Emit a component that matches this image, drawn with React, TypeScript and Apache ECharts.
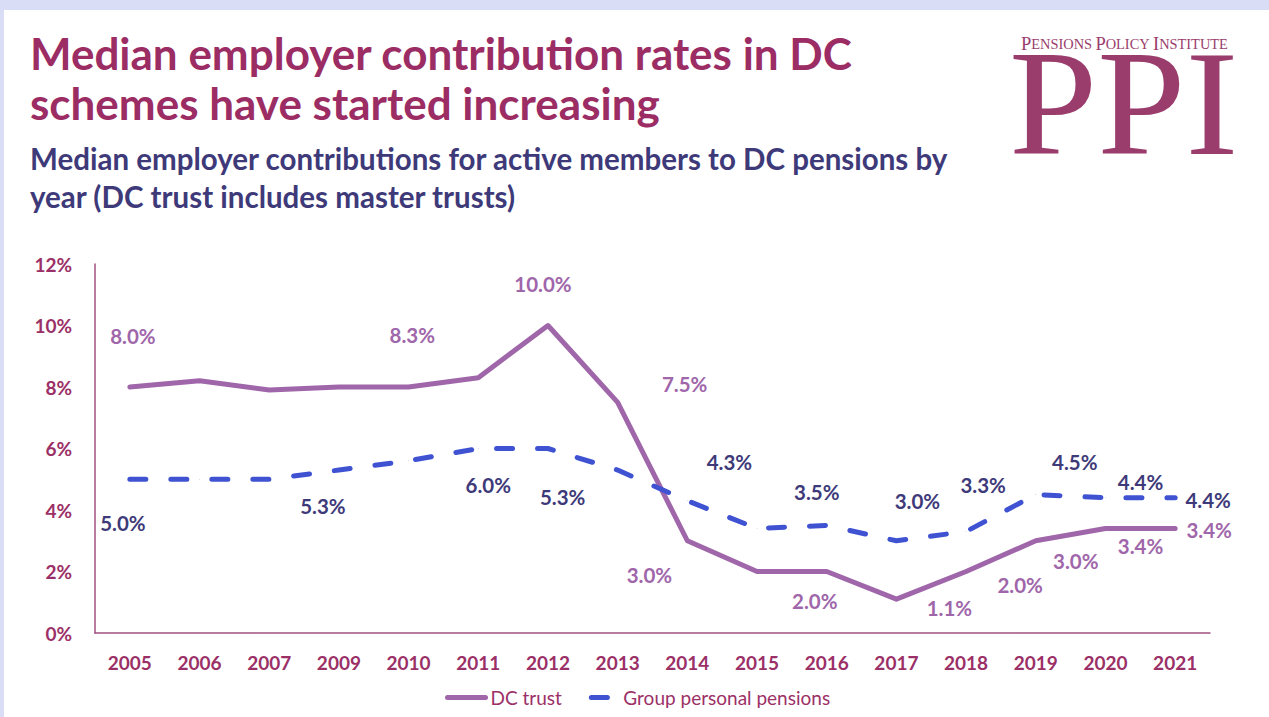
import React, { useEffect, useRef } from "react";
import * as echarts from "echarts";

const YEARS = ["2005", "2006", "2007", "2009", "2010", "2011", "2012", "2013", "2014", "2015", "2016", "2017", "2018", "2019", "2020", "2021"];
const DC_TRUST = [8.0, 8.2, 7.9, 8.0, 8.0, 8.3, 10.0, 7.5, 3.0, 2.0, 2.0, 1.1, 2.0, 3.0, 3.4, 3.4];
const GROUP_PERSONAL = [5.0, 5.0, 5.0, 5.3, 5.6, 6.0, 6.0, 5.3, 4.3, 3.4, 3.5, 3.0, 3.3, 4.5, 4.4, 4.4];
const Y_TICKS = [0, 2, 4, 6, 8, 10, 12];
const SERIES_NAMES = ["DC trust", "Group personal pensions"];

// label placements (offset from point, px), keyed by category index
const DC_LABEL_OFFSETS: Record<number, [number, number]> = {
  0: [3, -51], 5: [-66, -43], 6: [-5, -42], 7: [67, -18], 8: [-38, 34], 10: [-12, 29],
  11: [53, 9], 12: [54, 13], 13: [40, 20], 14: [35, 18], 15: [34, 2],
};
const GPP_LABEL_OFFSETS: Record<number, [number, number]> = {
  0: [-7, 44], 3: [-16, 36], 5: [10, 36], 7: [-55, 27], 8: [42, -39], 10: [-10, -33],
  11: [21, -40], 12: [17, -47], 13: [39, -33], 14: [35, -16], 15: [33, 2],
};

const PLUM = "#9b3067";
const DC_COLOR = "#a066aa";
const GPP_COLOR = "#3f52d2";
const NAVY = "#3e3a7a";
const LOGO = "#9a3c6c";
const FONT = "Lato, 'Open Sans', sans-serif";
const SERIF = "'Liberation Serif', serif";

function buildData(values: number[], offsets: Record<number, [number, number]>, color: string) {
  return values.map((v, i) =>
    offsets[i]
      ? {
          value: v,
          label: {
            show: true,
            position: "inside",
            offset: offsets[i],
            color,
            fontFamily: FONT,
            fontWeight: "bold",
            fontSize: 20.5,
            formatter: (p: any) => Number(p.value).toFixed(1) + "%",
          },
        }
      : { value: v }
  );
}

export default function App() {
  const ref = useRef<HTMLDivElement>(null);
  useEffect(() => {
    if (!ref.current) return;
    const chart = echarts.init(ref.current, null, { renderer: "svg" });
    chart.setOption({
      animation: false,
      backgroundColor: "#d9ddf5",
      graphic: [
        { type: "rect", z: -10, shape: { x: 4, y: 10, width: 1265, height: 707 }, style: { fill: "#ffffff" } },
        {
          type: "text",
          x: 1021,
          y: 53,
          style: {
            text: "{a|P}{b|ENSIONS} {a|P}{b|OLICY} {a|I}{b|NSTITUTE}",
            textVerticalAlign: "bottom",
            rich: {
              a: { fontFamily: SERIF, fontSize: 18.5, fill: LOGO },
              b: { fontFamily: SERIF, fontSize: 14.4, fill: LOGO },
            },
          },
        },
        {
          type: "text",
          x: 1009,
          y: 28,
          scaleX: 1.08,
          scaleY: 1.02,
          style: {
            text: "PPI",
            fontFamily: SERIF,
            fontSize: 147,
            fill: LOGO,
          },
        },
      ],
      title: [
        {
          text: "Median employer contribution rates in DC\nschemes have started increasing",
          left: 25,
          top: 23,
          textStyle: { color: "#9b2d64", fontFamily: FONT, fontWeight: "bold", fontSize: 44, lineHeight: 50 },
        },
        {
          text: "Median employer contributions for active members to DC pensions by\nyear (DC trust includes master trusts)",
          left: 25,
          top: 134,
          textStyle: { color: NAVY, fontFamily: FONT, fontWeight: "bold", fontSize: 29.5, lineHeight: 38 },
        },
      ],
      legend: {
        data: [
          { name: SERIES_NAMES[0] },
          { name: SERIES_NAMES[1], lineStyle: { type: [16, 30], dashOffset: 35 } },
        ],
        left: 440,
        top: 683,
        itemWidth: 38,
        itemHeight: 14,
        itemGap: 16,
        itemStyle: { opacity: 0 },
        lineStyle: { width: 5, cap: "round" },
        textStyle: { color: PLUM, fontFamily: FONT, fontSize: 19 },
      },
      grid: { left: 95, top: 264, width: 1115, height: 369, containLabel: false },
      xAxis: {
        type: "category",
        data: YEARS,
        boundaryGap: true,
        axisLine: { show: true, lineStyle: { color: "#a0507f", width: 1.5 } },
        axisTick: { show: false },
        axisLabel: { color: PLUM, fontFamily: FONT, fontWeight: "bold", fontSize: 19, margin: 20 },
      },
      yAxis: {
        type: "value",
        min: Y_TICKS[0],
        max: Y_TICKS[Y_TICKS.length - 1],
        interval: 2,
        axisLine: { show: true, lineStyle: { color: "#a0507f", width: 1.5 } },
        axisTick: { show: false },
        splitLine: { show: false },
        axisLabel: { color: PLUM, fontFamily: FONT, fontWeight: "bold", fontSize: 19, margin: 23, formatter: "{value}%" },
      },
      series: [
        {
          name: SERIES_NAMES[0],
          type: "line",
          color: DC_COLOR,
          data: buildData(DC_TRUST, DC_LABEL_OFFSETS, DC_COLOR),
          symbol: "circle",
          symbolSize: 0.5,
          lineStyle: { color: DC_COLOR, width: 5, cap: "round", join: "round" },
          label: { show: false },
          z: 2,
        },
        {
          name: SERIES_NAMES[1],
          type: "line",
          color: GPP_COLOR,
          data: buildData(GROUP_PERSONAL, GPP_LABEL_OFFSETS, NAVY),
          symbol: "circle",
          symbolSize: 0.5,
          lineStyle: { color: GPP_COLOR, width: 5, type: [16, 25], cap: "round", join: "round" },
          label: { show: false },
          z: 3,
        },
      ],
    });
    return () => chart.dispose();
  }, []);
  return <div ref={ref} style={{ position: "absolute", left: 0, top: 0, width: 1269, height: 717 }} />;
}
